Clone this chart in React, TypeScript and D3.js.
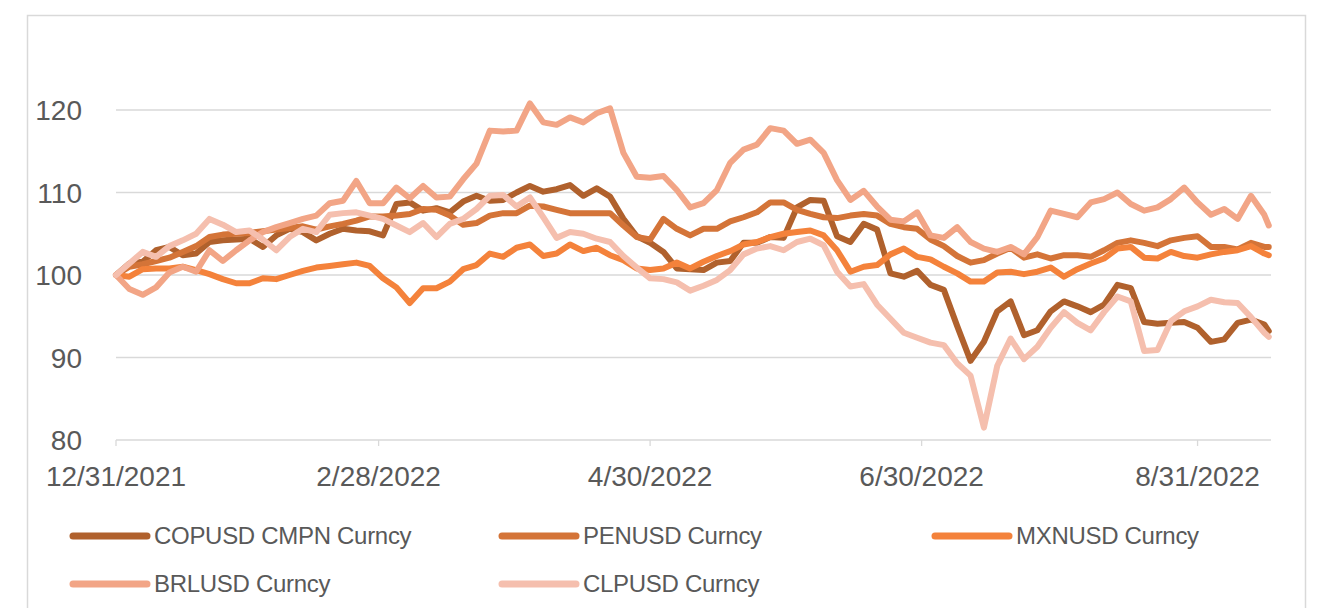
import React from 'react';
import * as d3 from 'd3';

const width = 1325, height = 608;
const margin = { top: 110, right: 54, bottom: 168, left: 116 };

// sample dates: every 3 days from 12/31/2021, last point 9/16/2022
const startDate = new Date(2021, 11, 31);
const dayOffsets = [...d3.range(0, 259, 3), 259];
const dates = dayOffsets.map(d => d3.timeDay.offset(startDate, d));

const tickDates = ['12/31/2021', '2/28/2022', '4/30/2022', '6/30/2022', '8/31/2022'];
const yTicks = [80, 90, 100, 110, 120];

const seriesNames = ['COPUSD CMPN Curncy', 'PENUSD Curncy', 'MXNUSD Curncy', 'BRLUSD Curncy', 'CLPUSD Curncy'];
const seriesColors = ['#b0612d', '#d47438', '#f4823b', '#f2a586', '#f5bfae'];

const COP = [100, 101.4, 101.6, 103, 103.4, 102.4, 102.6, 104, 104.2, 104.3,
  104.4, 103.4, 104.8, 105.6, 105.2, 104.2, 105, 105.6, 105.4, 105.3,
  104.8, 108.6, 108.8, 107.8, 108.1, 107.6, 108.9, 109.6, 109, 109.1,
  110, 110.8, 110.1, 110.4, 110.9, 109.6, 110.5, 109.5, 106.8, 104.7,
  103.9, 102.8, 100.8, 100.7, 100.6, 101.5, 101.7, 103.9, 103.9, 104.6,
  104.5, 108.2, 109.1, 109, 104.7, 104, 106.2, 105.5, 100.2, 99.8,
  100.5, 98.8, 98.2, 93.8, 89.6, 91.9, 95.6, 96.8, 92.7, 93.3,
  95.6, 96.8, 96.2, 95.5, 96.4, 98.8, 98.4, 94.3, 94.1, 94.2,
  94.3, 93.6, 91.9, 92.2, 94.2, 94.6, 94, 93.2];

const PEN = [100, 101, 101.3, 101.7, 102.1, 102.8, 103.5, 104.6, 104.9, 105,
  105.1, 105.3, 105.5, 105.7, 105.9, 105.5, 105.9, 106.2, 106.6, 107.1,
  107.1, 107.2, 107.4, 108, 107.9, 107.2, 106.1, 106.3, 107.2, 107.5,
  107.5, 108.4, 108.3, 107.9, 107.5, 107.5, 107.5, 107.5, 106, 104.6,
  104.3, 106.8, 105.6, 104.8, 105.6, 105.6, 106.5, 107, 107.6, 108.8,
  108.8, 107.9, 107.4, 107, 106.9, 107.2, 107.4, 107.2, 106.2, 105.8,
  105.6, 104.3, 103.5, 102.3, 101.5, 101.8, 102.6, 103.3, 102.1, 102.5,
  102, 102.4, 102.4, 102.2, 103, 103.9, 104.2, 103.9, 103.5, 104.2,
  104.5, 104.7, 103.4, 103.4, 103.1, 103.9, 103.4, 103.4];

const MXN = [100, 99.8, 100.7, 100.8, 100.8, 101, 100.6, 100.1, 99.5, 99,
  99, 99.6, 99.5, 100, 100.5, 100.9, 101.1, 101.3, 101.5, 101.1,
  99.6, 98.5, 96.6, 98.4, 98.4, 99.2, 100.7, 101.2, 102.6, 102.2,
  103.3, 103.7, 102.3, 102.6, 103.7, 102.9, 103.3, 102.4, 101.8, 100.8,
  100.6, 100.8, 101.5, 100.8, 101.6, 102.3, 102.9, 103.7, 104, 104.6,
  105, 105.2, 105.4, 104.8, 103, 100.4, 101, 101.2, 102.5, 103.2,
  102.2, 101.9, 101, 100.2, 99.2, 99.2, 100.3, 100.4, 100.1, 100.4,
  100.9, 99.8, 100.7, 101.4, 102, 103.2, 103.4, 102.1, 102, 102.8,
  102.3, 102.1, 102.5, 102.8, 103, 103.5, 102.6, 102.4];

const BRL = [100, 98.3, 97.6, 98.5, 100.3, 101, 100.4, 103, 101.7, 103,
  104.2, 105.2, 105.8, 106.3, 106.8, 107.2, 108.7, 109, 111.4, 108.7,
  108.7, 110.6, 109.3, 110.8, 109.4, 109.5, 111.6, 113.5, 117.5, 117.4,
  117.5, 120.8, 118.5, 118.2, 119.1, 118.5, 119.6, 120.2, 114.8, 111.9,
  111.8, 112, 110.3, 108.2, 108.7, 110.3, 113.6, 115.2, 115.8, 117.8,
  117.5, 115.9, 116.4, 114.8, 111.5, 109.1, 110.2, 108.3, 106.7, 106.5,
  107.6, 104.8, 104.5, 105.8, 104, 103.2, 102.8, 103.4, 102.5, 104.6,
  107.8, 107.4, 107, 108.8, 109.2, 110, 108.6, 107.8, 108.2, 109.2,
  110.6, 108.8, 107.3, 108, 106.8, 109.6, 107.3, 106];

const CLP = [100, 101.4, 102.8, 102.2, 103.5, 104.2, 105, 106.8, 106.1, 105.2,
  105.4, 104.3, 103, 104.6, 105.6, 105.2, 107.3, 107.5, 107.6, 107.2,
  106.8, 106, 105.2, 106.3, 104.6, 106.2, 106.8, 108, 109.6, 109.7,
  108.3, 109.4, 107, 104.5, 105.2, 105, 104.4, 104, 102.3, 100.9,
  99.6, 99.5, 99.1, 98.1, 98.7, 99.4, 100.6, 102.5, 103.2, 103.5,
  103, 104, 104.4, 103.6, 100.4, 98.6, 98.9, 96.4, 94.7, 93,
  92.4, 91.8, 91.5, 89.3, 87.8, 81.5, 89, 92.3, 89.8, 91.3,
  93.6, 95.5, 94.2, 93.3, 95.5, 97.4, 96.8, 90.8, 90.9, 94.4,
  95.6, 96.2, 97, 96.7, 96.6, 94.9, 93, 92.5];

const seriesValues = [COP, PEN, MXN, BRL, CLP];

// legend layout: three columns, two rows
const legendCols = [70, 499, 932];
const legendRows = [536, 584];

const font = 'Liberation Sans, Arial, sans-serif';
const textColor = '#595959';
const gridColor = '#d9d9d9';

export default function App() {
  const parse = d3.timeParse('%m/%d/%Y');
  const fmt = (d: Date) => `${d.getMonth() + 1}/${d.getDate()}/${d.getFullYear()}`;

  // end of axis a half day past the last sample
  const endDate = d3.timeHour.offset(dates[dates.length - 1], 12);
  const xScale = d3.scaleTime().domain([startDate, endDate])
    .range([margin.left, width - margin.right]);
  const yScale = d3.scaleLinear().domain([80, 120])
    .range([height - margin.bottom, margin.top]);

  const line = d3.line<number>()
    .x((_, i) => xScale(dates[i]))
    .y(d => yScale(d));

  const [x0, x1] = xScale.range();
  const yBase = yScale(80);

  return (
    <svg width={width} height={height} viewBox={`0 0 ${width} ${height}`}
      style={{ position: 'absolute', left: 0, top: 0, background: '#fff' }}>
      <rect x={27.5} y={15.5} width={1278} height={620} fill="#fff" stroke={gridColor} strokeWidth={1.5} />

      {/* gridlines */}
      {yTicks.map(t => (
        <line key={t} x1={x0} x2={x1} y1={yScale(t)} y2={yScale(t)} stroke={gridColor} strokeWidth={1.3} />
      ))}
      {/* y labels */}
      {yTicks.map(t => (
        <text key={'l' + t} x={82} y={yScale(t) + 10} textAnchor="end" fontFamily={font}
          fontSize={28} fill={textColor}>{t}</text>
      ))}

      {/* x ticks & labels */}
      {tickDates.map(s => {
        const d = parse(s) as Date;
        const x = xScale(d);
        return (
          <g key={s}>
            <line x1={x} x2={x} y1={yBase} y2={yBase + 6} stroke={gridColor} strokeWidth={1.3} />
            <text x={x} y={yBase + 46} textAnchor="middle" fontFamily={font} fontSize={28}
              fill={textColor}>{fmt(d)}</text>
          </g>
        );
      })}

      {/* series */}
      {seriesValues.map((vals, i) => (
        <path key={seriesNames[i]} d={line(vals) || ''} fill="none" stroke={seriesColors[i]}
          strokeWidth={6} strokeLinejoin="round" strokeLinecap="round" />
      ))}

      {/* legend */}
      {seriesNames.map((name, i) => {
        const lx = legendCols[i % 3];
        const ly = legendRows[Math.floor(i / 3)];
        return (
          <g key={'lg' + name}>
            <line x1={lx + 3} x2={lx + 77} y1={ly} y2={ly} stroke={seriesColors[i]} strokeWidth={7}
              strokeLinecap="round" />
            <text x={lx + 84} y={ly + 8} fontFamily={font} fontSize={24} fill={textColor}
              letterSpacing={-0.3}>{name}</text>
          </g>
        );
      })}
    </svg>
  );
}
